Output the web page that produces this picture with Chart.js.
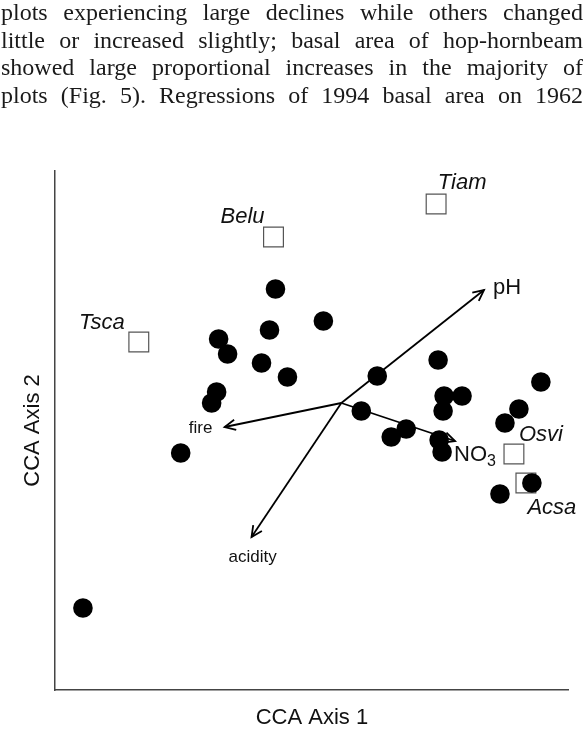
<!DOCTYPE html>
<html>
<head>
<meta charset="utf-8">
<script src="https://cdn.jsdelivr.net/npm/chart.js@4.4.1/dist/chart.umd.min.js"></script>
<style>
  html, body { margin: 0; padding: 0; background: #fff; }
  body { width: 584px; height: 729px; position: relative; overflow: hidden; }
  #texto {
    position: absolute; left: 1px; top: -1px; width: 582px; z-index: 2;
    font-family: "Liberation Serif", "Times New Roman", serif;
    font-size: 24px; line-height: 27.5px; color: #1a1a1a;
  }
  #texto div { text-align: justify; text-align-last: justify; white-space: nowrap; }
  #grafica { position: absolute; left: 0; top: 0; }
</style>
</head>
<body>
<div id="texto">
  <div>plots experiencing large declines while others changed</div>
  <div>little or increased slightly; basal area of hop-hornbeam</div>
  <div>showed large proportional increases in the majority of</div>
  <div>plots (Fig. 5). Regressions of 1994 basal area on 1962</div>
</div>
<canvas id="grafica" width="584" height="729"></canvas>
<script>
// plot (site) scores
var plotX = [-0.66, -0.18, -0.72, -1.23, -1.14, -0.80, -0.54, -1.25, -1.30, -1.61,
             0.97, 0.36, 2.00, 1.03, 1.21, 1.02, 0.20, 1.78, 1.64, 0.65,
             0.50, 0.98, 1.01, 1.91, 1.59, -2.59];
var plotY = [1.14, 0.82, 0.73, 0.64, 0.49, 0.40, 0.26, 0.11, 0.00, -0.50,
             0.43, 0.27, 0.21, 0.07, 0.07, -0.08, -0.08, -0.06, -0.20, -0.26,
             -0.34, -0.37, -0.49, -0.80, -0.91, -2.05];

// species scores
var species = ["Tiam", "Belu", "Tsca", "Osvi", "Acsa"];
var speciesX = [0.95, -0.68, -2.03, 1.73, 1.85];
var speciesY = [1.99, 1.66, 0.61, -0.51, -0.80];

// environmental vectors (from origin)
var vectors = ["pH", "fire", "acidity", "NO3"];
var vectorX = [1.43, -1.17, -0.90, 1.14];
var vectorY = [1.13, -0.24, -1.34, -0.38];

// label placement (pixels from the mark)
var labelOffsets = {
    Tiam: [26, -21], Belu: [-31, -20], Tsca: [-37, -19], Osvi: [27, -19], Acsa: [26, 25],
    pH: [23, -2], fire: [-24, 1], acidity: [1, 20], NO3: [-1, 14]
};

function puntos(xs, ys) {
    return xs.map(function(x, i) { return {x: x, y: ys[i]}; });
}

var datasets = [];

// dots on top
datasets.push({
    data: puntos(plotX, plotY),
    pointStyle: 'circle',
    pointRadius: 9.8,
    backgroundColor: '#000',
    borderWidth: 0
});

// species squares
datasets.push({
    data: puntos(speciesX, speciesY),
    pointStyle: 'rect',
    pointRadius: 14,
    backgroundColor: '#fff',
    borderColor: '#555',
    borderWidth: 1.2
});

// vectors
vectors.forEach(function(name, i) {
    datasets.push({
        label: name,
        isVector: true,
        data: [{x: 0, y: 0}, {x: vectorX[i], y: vectorY[i]}],
        showLine: true,
        pointRadius: 0,
        borderColor: '#000',
        borderWidth: 1.8,
        fill: false
    });
});

var biplotPlugin = {
    id: 'biplot',
    afterDatasetDraw: function(chart, args) {
        var ds = chart.data.datasets[args.index];
        if (!ds.isVector) return;
        var ctx = chart.ctx;
        var p0 = args.meta.data[0], p1 = args.meta.data[1];
        var ang = Math.atan2(p1.y - p0.y, p1.x - p0.x);
        var len = 12, abre = 0.45;
        ctx.save();
        ctx.strokeStyle = '#000';
        ctx.lineWidth = 1.8;
        ctx.beginPath();
        ctx.moveTo(p1.x - len * Math.cos(ang - abre), p1.y - len * Math.sin(ang - abre));
        ctx.lineTo(p1.x, p1.y);
        ctx.lineTo(p1.x - len * Math.cos(ang + abre), p1.y - len * Math.sin(ang + abre));
        ctx.stroke();
        ctx.restore();
    },
    afterDatasetsDraw: function(chart) {
        var ctx = chart.ctx;
        ctx.save();
        ctx.fillStyle = '#111';
        ctx.textBaseline = 'middle';
        ctx.textAlign = 'center';

        // species names
        ctx.font = 'italic 22px "Liberation Sans", Arial, sans-serif';
        var sq = chart.getDatasetMeta(1).data;
        species.forEach(function(name, i) {
            var off = labelOffsets[name];
            ctx.fillText(name, sq[i].x + off[0], sq[i].y + off[1]);
        });

        // vector names
        vectors.forEach(function(name, i) {
            var tip = chart.getDatasetMeta(2 + i).data[1];
            var off = labelOffsets[name];
            var x = tip.x + off[0], y = tip.y + off[1];
            if (name == 'NO3') {
                ctx.textAlign = 'left';
                ctx.font = '22px "Liberation Sans", Arial, sans-serif';
                ctx.fillText('NO', x, y);
                var w = ctx.measureText('NO').width;
                ctx.font = '16px "Liberation Sans", Arial, sans-serif';
                ctx.fillText('3', x + w, y + 7);
                ctx.textAlign = 'center';
            } else if (name == 'pH') {
                ctx.font = '22px "Liberation Sans", Arial, sans-serif';
                ctx.fillText(name, x, y);
            } else {
                ctx.font = '17px "Liberation Sans", Arial, sans-serif';
                ctx.fillText(name, x, y);
            }
        });
        ctx.restore();
    }
};

var ctx = document.getElementById('grafica').getContext('2d');
var grafica = new Chart(ctx, {
    type: 'scatter',
    data: { datasets: datasets },
    plugins: [biplotPlugin],
    options: {
        responsive: false,
        animation: false,
        layout: { padding: { left: 0, top: 171, right: 14, bottom: 0 } },
        plugins: {
            legend: { display: false },
            tooltip: { enabled: false }
        },
        scales: {
            x: {
                type: 'linear',
                min: -2.87,
                max: 2.28,
                ticks: { display: false },
                grid: { display: false, drawTicks: false },
                border: { color: '#444', width: 1.5 },
                title: {
                    display: true,
                    text: 'CCA Axis 1',
                    color: '#111',
                    font: { family: '"Liberation Sans", Arial, sans-serif', size: 22, lineHeight: 1 },
                    padding: { top: 0, bottom: 0 }
                },
                afterFit: function(scale) { scale.height = 39; }
            },
            y: {
                type: 'linear',
                min: -2.87,
                max: 2.32,
                ticks: { display: false },
                grid: { display: false, drawTicks: false },
                border: { color: '#444', width: 1.5 },
                title: {
                    display: true,
                    text: 'CCA Axis 2',
                    color: '#111',
                    font: { family: '"Liberation Sans", Arial, sans-serif', size: 22, lineHeight: 1 },
                    padding: { top: 22, bottom: 0 }
                },
                afterFit: function(scale) { scale.width = 55; }
            }
        }
    }
});
</script>
</body>
</html>
